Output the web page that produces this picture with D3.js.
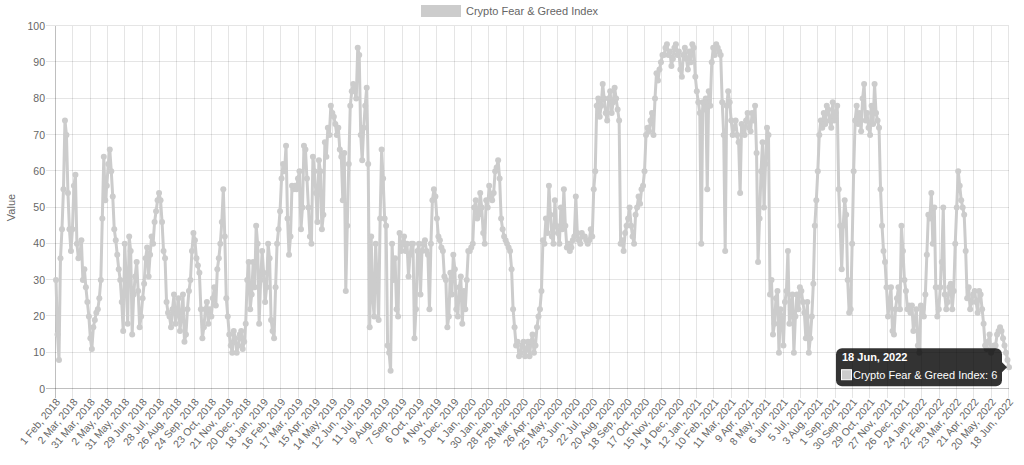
<!DOCTYPE html>
<html>
<head>
<meta charset="utf-8">
<script src="https://cdn.jsdelivr.net/npm/d3@7"></script>
<style>
body { margin: 0; background: #fff; }
svg { display: block; font-family: Arial, "Liberation Sans", Helvetica, sans-serif; }
</style>
</head>
<body>
<svg width="1024" height="465"></svg>
<script>
var seriesName = "Crypto Fear & Greed Index";
var yTitle = "Value";

var tickLabels = [
	"1 Feb, 2018", "2 Mar, 2018", "31 Mar, 2018", "2 May, 2018", "31 May, 2018", "29 Jun, 2018",
	"28 Jul, 2018", "26 Aug, 2018", "24 Sep, 2018", "23 Oct, 2018", "21 Nov, 2018", "20 Dec, 2018",
	"18 Jan, 2019", "16 Feb, 2019", "17 Mar, 2019", "15 Apr, 2019", "14 May, 2019", "12 Jun, 2019",
	"11 Jul, 2019", "9 Aug, 2019", "7 Sep, 2019", "6 Oct, 2019", "4 Nov, 2019", "3 Dec, 2019",
	"1 Jan, 2020", "30 Jan, 2020", "28 Feb, 2020", "28 Mar, 2020", "26 Apr, 2020", "25 May, 2020",
	"23 Jun, 2020", "22 Jul, 2020", "20 Aug, 2020", "18 Sep, 2020", "17 Oct, 2020", "15 Nov, 2020",
	"14 Dec, 2020", "12 Jan, 2021", "10 Feb, 2021", "11 Mar, 2021", "9 Apr, 2021", "8 May, 2021",
	"6 Jun, 2021", "5 Jul, 2021", "3 Aug, 2021", "1 Sep, 2021", "30 Sep, 2021", "29 Oct, 2021",
	"27 Nov, 2021", "26 Dec, 2021", "24 Jan, 2022", "22 Feb, 2022", "23 Mar, 2022", "21 Apr, 2022",
	"20 May, 2022", "18 Jun, 2022"
];
var daysPerLabel = 29;   // one axis label every 29 daily points
var daysPerSample = 5;   // main readings every 5th day

var yTicks = [0, 10, 20, 30, 40, 50, 60, 70, 80, 90, 100];

// index value, 1 Feb 2018 .. 18 Jun 2022, one reading every 5 days
var fearGreed = [
	30, 8, 44, 74, 54, 38, 56, 40, 37, 30, 28, 20, 11, 19, 22, 30, 64, 56, 66, 53,
	41, 33, 24, 40, 18, 38, 26, 35, 17, 25, 36, 31, 42, 46, 52, 52, 38, 24, 20, 22,
	18, 25, 20, 13, 22, 30, 43, 36, 32, 14, 22, 18, 20,
	28, 33, 40, 55, 25, 15, 10, 14, 12, 16, 13, 30, 22, 35, 45, 18, 38, 24, 40, 19,
	14, 40, 49, 62, 67, 37, 56, 56, 58, 44, 67, 58, 42, 64, 54, 63, 44, 68, 72, 78,
	75, 70, 66, 52, 27, 62, 82, 82, 94, 70, 72, 83, 17,
	25, 40, 19, 66, 47, 12, 5, 30, 22, 43, 40, 38, 31, 40, 14, 38, 26, 40, 38, 22,
	52, 53, 42, 39, 31, 17, 32, 37, 22, 28, 18, 22, 38, 39, 50, 47, 54, 43, 52, 56,
	52, 60, 63, 47, 42, 40, 38, 22, 12, 9, 12, 9, 13,
	13, 10, 17, 22, 41, 47, 56, 42, 52, 43, 50, 55, 39, 38, 41, 53, 41, 43, 42, 40,
	44, 55, 78, 75, 84, 76, 80, 76, 83, 77, 40, 38, 45, 50, 42, 48, 53, 55, 60, 72,
	74, 70, 87, 88, 92, 94, 92, 89, 94, 92, 88, 92, 91,
	93, 95, 86, 79, 40, 77, 55, 78, 94, 95, 93, 79, 38, 82, 74, 72, 70, 54, 72, 74,
	72, 76, 78, 35, 60, 50, 72, 26, 15, 25, 10, 20, 24, 38, 22, 10, 26, 28, 24, 14,
	10, 20, 45, 60, 74, 76, 78, 74, 79, 76, 55, 33,
	52, 30, 22, 60, 78, 76, 80, 74, 72, 78, 84, 74, 55, 38, 28, 24, 16, 22, 28, 45,
	30, 22, 21, 16, 22, 10, 22, 26, 48, 54, 50, 20, 28, 50, 22, 28, 22, 40, 60, 52,
	48, 25, 22, 26, 24, 27, 22, 12, 13, 10, 12, 15, 17, 14, 10, 6
];

// readings half-way between the ones above (daily swings)
var fearGreedMid = [
	15, 36, 55, 70, 44, 44, 59, 36, 41, 33, 24, 14, 17, 21, 25, 47, 52, 62, 60, 44,
	37, 30, 16, 30, 42, 15, 31, 27, 20, 29, 39, 37, 40, 49, 54, 46, 36, 21, 17, 26,
	21, 16, 26, 15, 27, 38, 41, 34, 22, 17, 24, 22,
	25,
	23, 36, 46, 42, 20, 12, 16, 10, 15, 11, 18, 35, 26, 28, 40, 30, 32, 28, 36, 16,
	28, 44, 58, 60, 47, 42, 55, 55, 60, 50, 66, 50, 40, 60, 46, 60, 48, 64, 70, 76,
	73, 72, 64, 65, 45, 78, 84, 80, 92, 63, 78, 62,
	42,
	20, 30, 47, 58, 45, 10, 40, 36, 20, 38, 42, 40, 37, 40, 22, 40, 38, 41, 37, 40,
	55, 47, 41, 38, 30, 20, 26, 33, 20, 31, 27, 30, 38, 40, 52, 48, 50, 40, 50, 53,
	54, 61, 58, 44, 41, 39, 33, 17, 13, 10, 13, 11,
	9,
	15, 12, 20, 27, 40, 43, 48, 40, 45, 40, 44, 45, 40, 39, 42, 43, 40, 42, 41, 41,
	42, 60, 80, 78, 80, 74, 82, 79, 80, 74, 41, 43, 47, 45, 40, 50, 51, 56, 70, 71,
	76, 80, 85, 90, 92, 95, 93, 91, 95, 93, 86, 94,
	88,
	90, 94, 82, 76, 79, 80, 82, 90, 92, 94, 92, 70, 78, 79, 70, 74, 68, 73, 70, 76,
	71, 74, 65, 47, 68, 62, 70, 30, 18, 27, 22, 12, 27, 18, 26, 20, 22, 27, 21, 24,
	14, 29, 52, 70, 72, 73, 77, 72, 74, 78, 45,
	45,
	48, 21, 40, 74, 73, 71, 84, 76, 70, 73, 76, 72, 45, 35, 20, 28, 15, 25, 22, 38,
	27, 23, 23, 19, 12, 23, 20, 37, 47, 40, 28, 22, 35, 26, 24, 29, 27, 50, 56, 50,
	38, 28, 24, 27, 21, 26, 18, 11, 15, 11, 12, 16, 16, 12, 8
];

var lineColor = "#cccccc";
var textColor = "#666";

// merge both readings into one series ordered by day
var points = [];
fearGreed.forEach(function(v, i) {
	points.push({day: i * daysPerSample, value: v});
	if (i < fearGreedMid.length) points.push({day: (i + 0.5) * daysPerSample, value: fearGreedMid[i]});
});

var svg = d3.select("svg"),
	width = +svg.attr("width"),
	height = +svg.attr("height"),
	margin = {top: 26, right: 15, bottom: 76, left: 56},
	innerW = width - margin.left - margin.right,
	innerH = height - margin.top - margin.bottom;

var lastDay = (fearGreed.length - 1) * daysPerSample;

var x = d3.scaleLinear().domain([0, lastDay]).range([0, innerW]);
var y = d3.scaleLinear().domain([0, 100]).range([innerH, 0]);

var g = svg.append("g").attr("transform", "translate(" + margin.left + "," + margin.top + ")");

function crisp(v) { return Math.round(v) - 0.5; }

// horizontal grid + y ticks
g.append("g").selectAll("line")
	.data(yTicks)
	.enter().append("line")
	.attr("x1", -10).attr("x2", innerW)
	.attr("y1", function(d) { return crisp(y(d)); })
	.attr("y2", function(d) { return crisp(y(d)); })
	.attr("stroke", function(d) { return d === 0 ? "rgba(0,0,0,0.25)" : "rgba(0,0,0,0.1)"; });

g.append("g").selectAll("text")
	.data(yTicks)
	.enter().append("text")
	.attr("x", -11)
	.attr("y", function(d) { return y(d); })
	.attr("dy", "0.35em")
	.attr("text-anchor", "end")
	.attr("font-size", 10.5)
	.attr("fill", textColor)
	.text(function(d) { return d; });

// vertical grid + x labels
var xt = g.append("g");
xt.selectAll("line")
	.data(tickLabels)
	.enter().append("line")
	.attr("x1", function(d, i) { return crisp(x(i * daysPerLabel)); })
	.attr("x2", function(d, i) { return crisp(x(i * daysPerLabel)); })
	.attr("y1", 0).attr("y2", innerH + 9)
	.attr("stroke", function(d, i) { return i === 0 ? "rgba(0,0,0,0.25)" : "rgba(0,0,0,0.1)"; });

xt.selectAll("text")
	.data(tickLabels)
	.enter().append("text")
	.attr("transform", function(d, i) {
		return "translate(" + (x(i * daysPerLabel) + 2) + "," + (innerH + 11) + ") rotate(-50)";
	})
	.attr("text-anchor", "end")
	.attr("dy", "0.35em")
	.attr("font-size", 10.5)
	.attr("fill", textColor)
	.text(function(d) { return d; });

svg.append("text")
	.attr("transform", "translate(15," + (margin.top + innerH / 2) + ") rotate(-90)")
	.attr("text-anchor", "middle")
	.attr("font-size", 11)
	.attr("fill", textColor)
	.text(yTitle);

// series
var line = d3.line()
	.x(function(d) { return x(d.day); })
	.y(function(d) { return y(d.value); });

g.append("path")
	.datum(points)
	.attr("d", line)
	.attr("fill", "none")
	.attr("stroke", lineColor)
	.attr("stroke-width", 3)
	.attr("stroke-linejoin", "round");

g.append("g").selectAll("circle")
	.data(points)
	.enter().append("circle")
	.attr("cx", function(d) { return x(d.day); })
	.attr("cy", function(d) { return y(d.value); })
	.attr("r", 3)
	.attr("fill", lineColor);

// legend
var legend = svg.append("g");
legend.append("rect")
	.attr("x", 421).attr("y", 5).attr("width", 40).attr("height", 12)
	.attr("fill", lineColor);
legend.append("text")
	.attr("x", 466).attr("y", 15)
	.attr("font-size", 11)
	.attr("fill", textColor)
	.text(seriesName);

// tooltip on the last point
var lastVal = fearGreed[fearGreed.length - 1],
	px = x(lastDay), py = y(lastVal);
var tip = g.append("g");
var tw = 166, th = 38, tx = px - 7 - tw, ty = py - th / 2;
tip.append("rect")
	.attr("x", tx).attr("y", ty).attr("width", tw).attr("height", th)
	.attr("rx", 6)
	.attr("fill", "rgba(0,0,0,0.8)");
tip.append("path")
	.attr("d", "M" + (tx + tw) + "," + (py - 5) + "L" + (tx + tw + 5) + "," + py + "L" + (tx + tw) + "," + (py + 5) + "Z")
	.attr("fill", "rgba(0,0,0,0.8)");
tip.append("text")
	.attr("x", tx + 6).attr("y", ty + 13)
	.attr("font-size", 11).attr("font-weight", "bold")
	.attr("fill", "#fff")
	.text(tickLabels[tickLabels.length - 1]);
tip.append("rect")
	.attr("x", tx + 5.5).attr("y", ty + 21.5).attr("width", 10).attr("height", 10)
	.attr("fill", lineColor).attr("stroke", "#fff");
tip.append("text")
	.attr("x", tx + 17).attr("y", ty + 30.5)
	.attr("font-size", 11)
	.attr("fill", "#fff")
	.text(seriesName + ": " + lastVal);
</script>
</body>
</html>
